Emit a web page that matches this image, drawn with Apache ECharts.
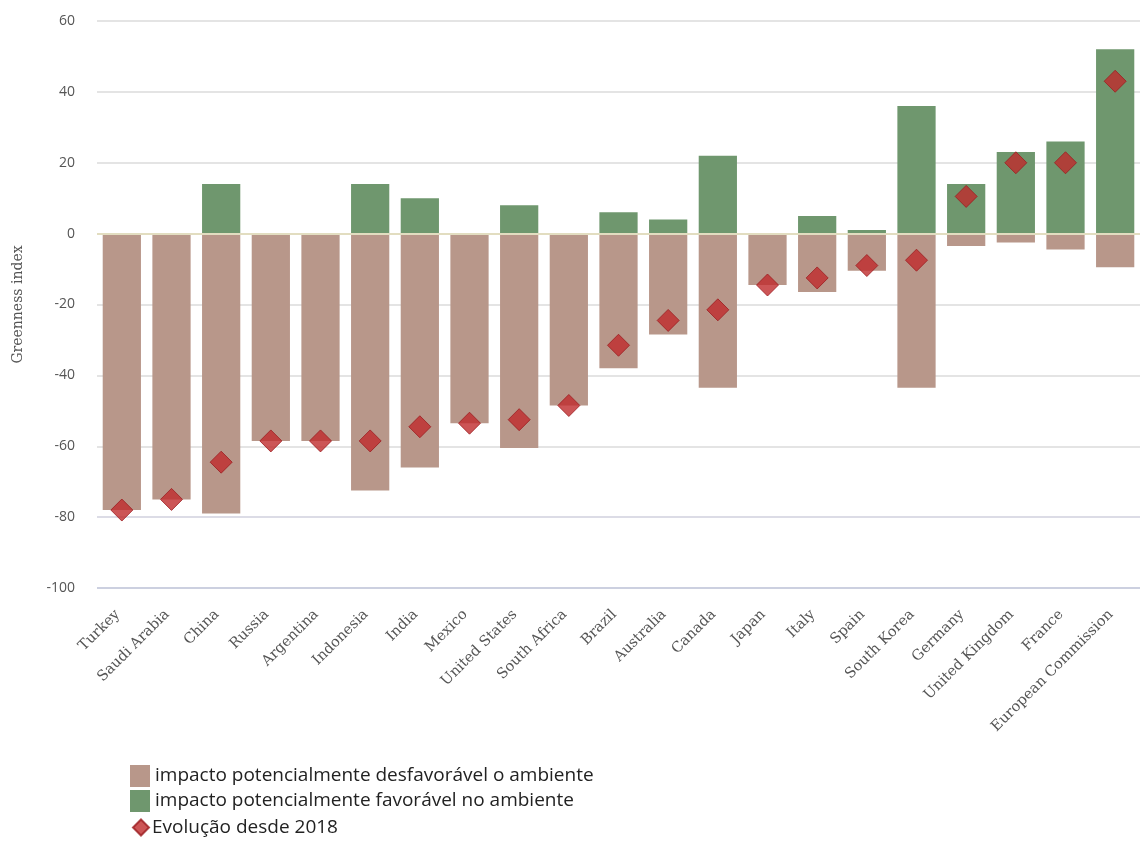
<!DOCTYPE html>
<html>
<head>
<meta charset="utf-8">
<script src="https://cdn.jsdelivr.net/npm/echarts@6/dist/echarts.min.js"></script>
<style>
  html, body { margin: 0; padding: 0; background: #fff; }
  #chart { width: 1142px; height: 843px; }
</style>
</head>
<body>
<div id="chart"></div>
<script>
  const categories = ['Turkey', 'Saudi Arabia', 'China', 'Russia', 'Argentina', 'Indonesia', 'India', 'Mexico',
    'United States', 'South Africa', 'Brazil', 'Australia', 'Canada', 'Japan', 'Italy', 'Spain',
    'South Korea', 'Germany', 'United Kingdom', 'France', 'European Commission']
  const unfavourable = [-78, -75, -79, -58.5, -58.5, -72.5, -66, -53.5, -60.5, -48.5, -38, -28.5, -43.5,
    -14.5, -16.5, -10.5, -43.5, -3.5, -2.5, -4.5, -9.5]
  const favourable = [0, 0, 14, 0, 0, 14, 10, 0, 8, 0, 6, 4, 22, 0, 5, 1, 36, 14, 23, 26, 52]
  const evolution = [-78, -75, -64.5, -58.5, -58.5, -58.5, -54.5, -53.5, -52.5, -48.5, -31.5, -24.5, -21.5,
    -14.5, -12.5, -9, -7.5, 10.5, 20, 20, 43]

  const serif = "'DejaVu Serif', 'Liberation Serif', serif"
  const sans = "'Open Sans', 'Noto Sans', sans-serif"

  const chart = echarts.init(document.getElementById('chart'))
  chart.setOption({
    animation: false,
    grid: { left: 97, right: 2, top: 21, bottom: 255 },
    legend: [
      {
        orient: 'vertical',
        left: 125,
        top: 760,
        itemWidth: 20,
        itemHeight: 22,
        itemGap: 3,
        icon: 'rect',
        textStyle: { fontFamily: sans, fontSize: 19, color: '#222' },
        data: ['impacto potencialmente desfavorável o ambiente', 'impacto potencialmente favorável no ambiente'],
      },
      {
        orient: 'vertical',
        left: 127,
        top: 813,
        itemWidth: 16,
        itemHeight: 16,
        icon: 'diamond',
        textStyle: { fontFamily: sans, fontSize: 19, color: '#222', padding: [0, 0, 0, -2] },
        data: ['Evolução desde 2018'],
      },
    ],
    xAxis: {
      type: 'category',
      data: categories,
      axisTick: { show: false },
      axisLine: { show: false },
      axisLabel: {
        rotate: 45,
        interval: 0,
        margin: 20,
        padding: [0, 6, 0, 0],
        fontFamily: serif,
        fontSize: 14.5,
        color: '#555',
      },
    },
    yAxis: {
      type: 'value',
      min: -100,
      max: 60,
      interval: 20,
      name: 'Greenness index',
      nameLocation: 'middle',
      nameGap: 72,
      nameTextStyle: { fontFamily: serif, fontSize: 14, color: '#555' },
      axisLabel: { margin: 22, fontFamily: sans, fontSize: 14, color: '#555' },
      splitLine: {
        lineStyle: {
          color: ['#ccd0e0', '#dcdce6', '#e4e4e4', '#e4e4e4', '#e4e4e4', '#e4e4e4', '#e4e4e4', '#e4e4e4', '#e4e4e4'],
          width: 2,
        },
      },
    },
    series: [
      {
        name: 'impacto potencialmente desfavorável o ambiente',
        type: 'bar',
        data: unfavourable,
        barWidth: '77%',
        barGap: '-100%',
        itemStyle: { color: '#b8978a' },
      },
      {
        name: 'impacto potencialmente favorável no ambiente',
        type: 'bar',
        data: favourable,
        barWidth: '77%',
        itemStyle: { color: '#6f976e' },
        markLine: {
          silent: true,
          symbol: 'none',
          label: { show: false },
          lineStyle: { color: '#e2ddc0', width: 2, type: 'solid' },
          data: [{ yAxis: 0 }],
        },
      },
      {
        name: 'Evolução desde 2018',
        type: 'scatter',
        data: evolution,
        symbol: 'diamond',
        symbolSize: 22,
        z: 5,
        itemStyle: { color: '#bf2a2c', borderColor: '#9c1d20', borderWidth: 1 },
      },
    ],
  })
</script>
</body>
</html>
